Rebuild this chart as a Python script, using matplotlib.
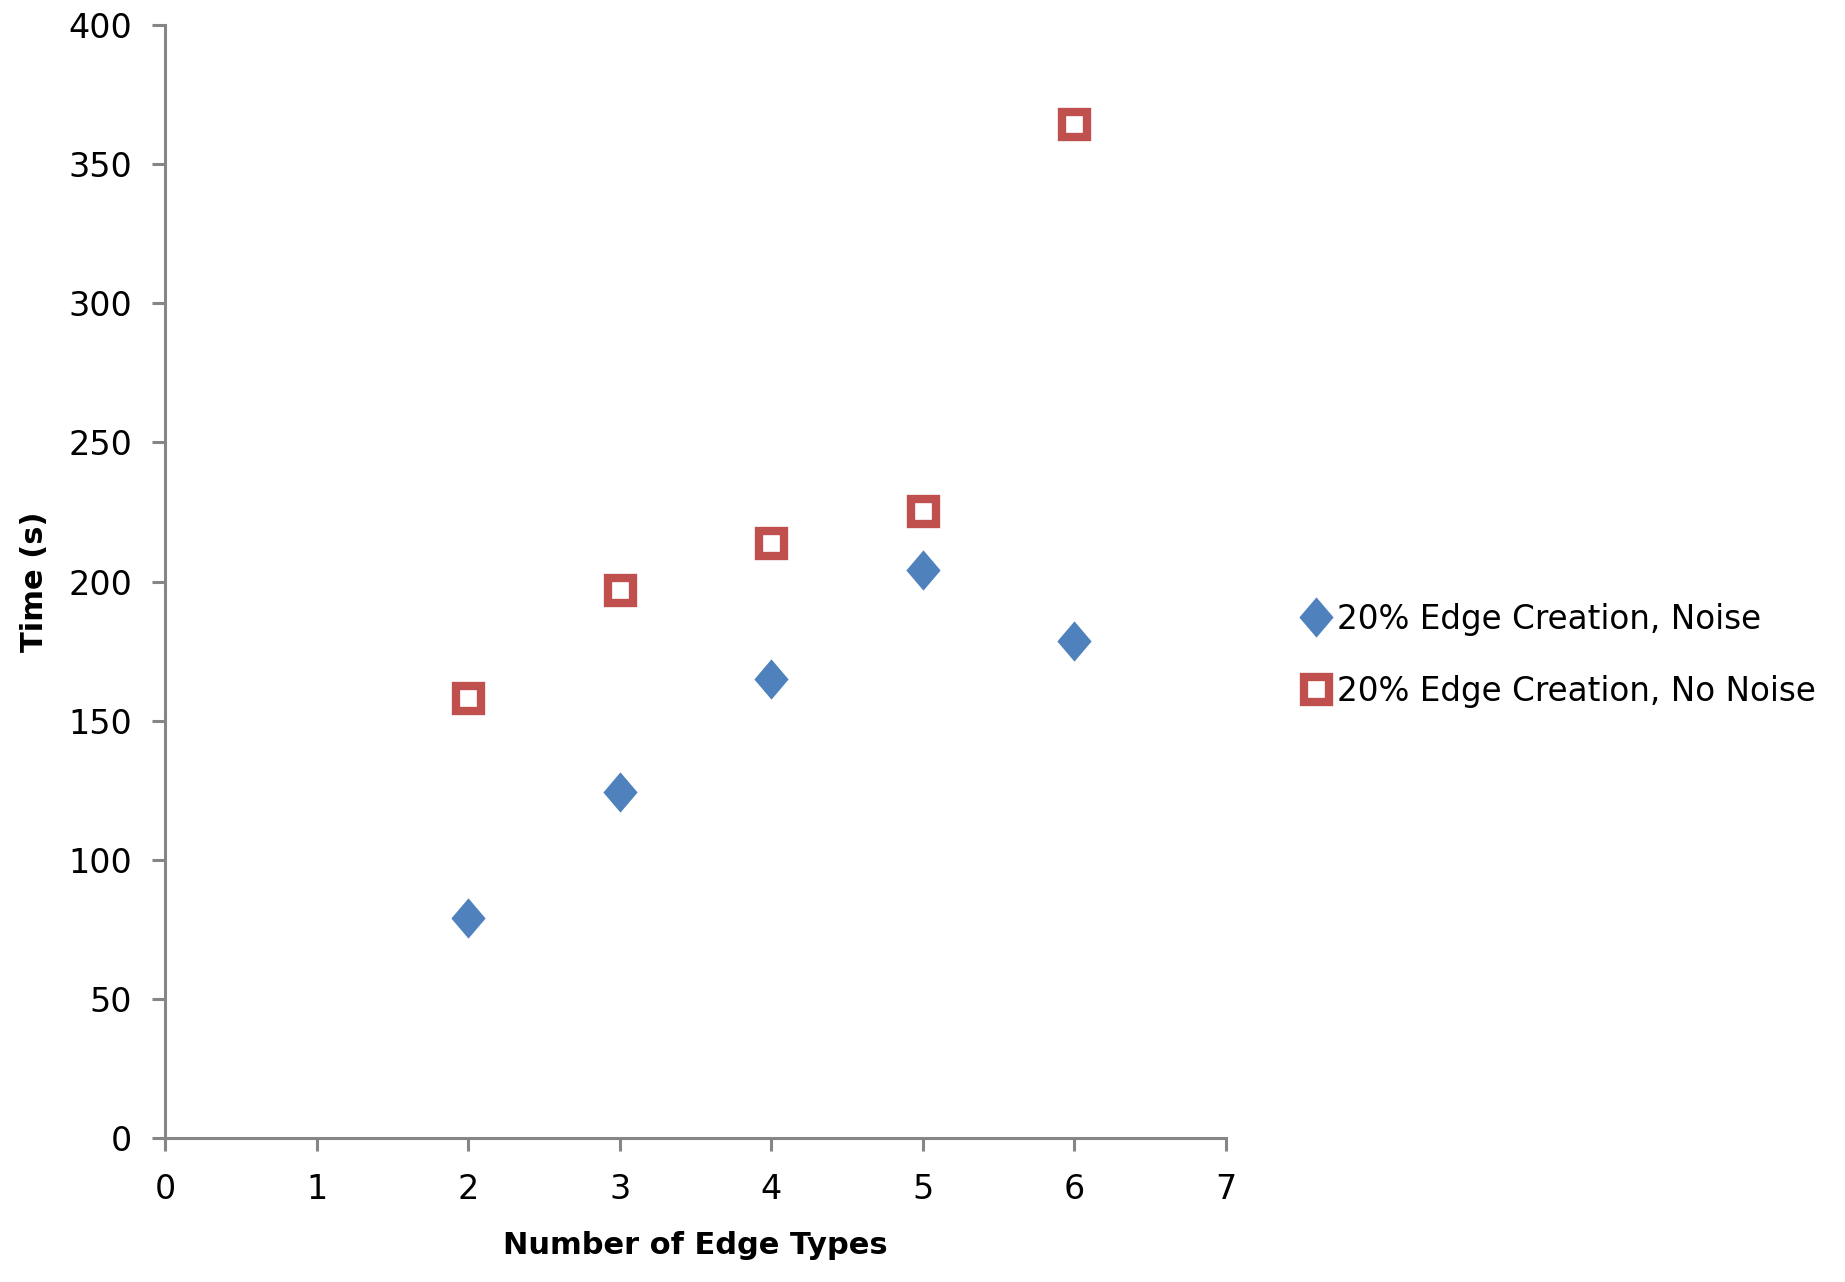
import matplotlib
matplotlib.use("Agg")
import matplotlib.pyplot as plt
from matplotlib.path import Path

# Data
edge_types = [2, 3, 4, 5, 6]
time_noise = [79, 124.5, 165, 204, 178.5]
time_no_noise = [158, 197, 214, 225.5, 364.5]

x_ticks = [0, 1, 2, 3, 4, 5, 6, 7]
y_ticks = [0, 50, 100, 150, 200, 250, 300, 350, 400]

BLUE = "#4F81BD"
RED = "#C0504D"
GREY = "#868686"

# slightly tall diamond like the original
diamond = Path([(0, 1), (0.85, 0), (0, -1), (-0.85, 0), (0, 1)],
               [Path.MOVETO, Path.LINETO, Path.LINETO, Path.LINETO, Path.CLOSEPOLY])


def main():
    fig = plt.figure(figsize=(18.45, 12.82), dpi=100)
    ax = fig.add_axes([0.0894, 0.1123, 0.5751, 0.8682])

    ax.plot(edge_types, time_noise, linestyle="none", marker=diamond,
            markersize=29, color=BLUE, markeredgewidth=0,
            label="20% Edge Creation, Noise")
    ax.plot(edge_types, time_no_noise, linestyle="none", marker="s",
            markersize=18, markerfacecolor="white", markeredgecolor=RED,
            markeredgewidth=6, label="20% Edge Creation, No Noise")

    ax.set_xlim(0, 7)
    ax.set_ylim(0, 400)
    ax.set_xticks(x_ticks)
    ax.set_yticks(y_ticks)

    for side in ["top", "right"]:
        ax.spines[side].set_visible(False)
    for side in ["left", "bottom"]:
        ax.spines[side].set_color(GREY)
        ax.spines[side].set_linewidth(2.2)

    ax.tick_params(axis="both", direction="out", length=9.5, width=2.2,
                   color=GREY, labelsize=24, labelcolor="black")
    ax.tick_params(axis="y", pad=14)
    ax.tick_params(axis="x", pad=16)

    ax.set_xlabel("Number of Edge Types", fontsize=22, fontweight="bold",
                  labelpad=18)
    ax.set_ylabel("Time (s)", fontsize=22, fontweight="bold", labelpad=14)

    fig.legend(loc="center left", bbox_to_anchor=(0.691, 0.489),
               frameon=False, fontsize=23.5, handlelength=0.7,
               handletextpad=0.3, labelspacing=1.2, numpoints=1,
               markerscale=1.0)

    fig.savefig("out.png", dpi=100, facecolor="white")
    plt.close(fig)


if __name__ == "__main__":
    main()
